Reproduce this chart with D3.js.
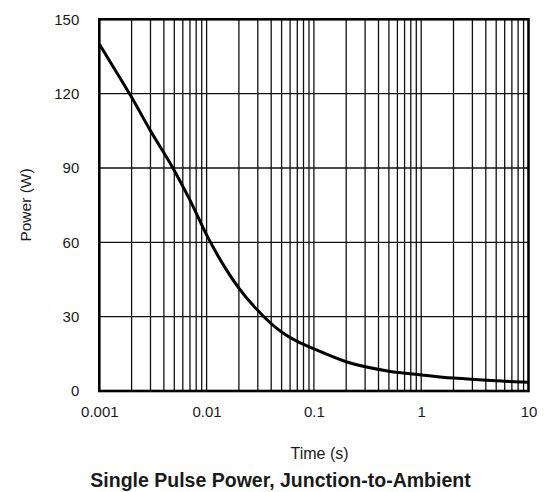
<!DOCTYPE html>
<html>
<head>
<meta charset="utf-8">
<script src="https://cdn.jsdelivr.net/npm/d3@7"></script>
<style>
  html, body { margin: 0; padding: 0; background: #fff; }
  svg { display: block; }
  text { font-family: "Liberation Sans", Arial, sans-serif; fill: #1a1a1a; }
</style>
</head>
<body>
<svg id="chart" width="548" height="492"></svg>
<script>
// Single pulse power curve, junction-to-ambient
const pulseTime = [0.001, 0.0015, 0.002, 0.003, 0.005, 0.007, 0.01, 0.015, 0.02, 0.03, 0.05, 0.07, 0.1, 0.2, 0.5, 1, 2, 5, 10];
const pulsePower = [140, 127.5, 118.5, 105, 89, 77, 63, 49.5, 41.5, 32.5, 23.8, 20, 17, 11.8, 8, 6.5, 5.2, 4.1, 3.5];

const xTickValues = [0.001, 0.01, 0.1, 1, 10];
const xTickLabels = ["0.001", "0.01", "0.1", "1", "10"];
const yTickValues = [0, 30, 60, 90, 120, 150];

const xTitle = "Time (s)";
const yTitle = "Power (W)";
const chartTitle = "Single Pulse Power, Junction-to-Ambient";

const svg = d3.select("#chart");
const margin = { left: 99.3, right: 528.5, top: 19.3, bottom: 391 };

const x = d3.scaleLog().domain([0.001, 10]).range([margin.left, margin.right]);
const y = d3.scaleLinear().domain([0, 150]).range([margin.bottom, margin.top]);

// minor + major vertical grid: 1..9 in every decade
const vGrid = [];
for (let e = -3; e < 1; e++) {
  for (let m = 1; m <= 9; m++) vGrid.push(m * Math.pow(10, e));
}
vGrid.push(10);

const grid = svg.append("g");
grid.selectAll("line.v").data(vGrid.filter(v => v > 0.001 && v < 10)).join("line")
  .attr("x1", d => x(d)).attr("x2", d => x(d))
  .attr("y1", y(0)).attr("y2", y(150))
  .attr("stroke", "#111").attr("stroke-width", 1.3);
grid.selectAll("line.h").data(yTickValues.filter(v => v > 0 && v < 150)).join("line")
  .attr("x1", x(0.001)).attr("x2", x(10))
  .attr("y1", d => y(d)).attr("y2", d => y(d))
  .attr("stroke", "#111").attr("stroke-width", 1.3);

// power curve
const line = d3.line()
  .x((d, i) => x(pulseTime[i]))
  .y(d => y(d))
  .curve(d3.curveMonotoneX);
svg.append("path")
  .attr("d", line(pulsePower))
  .attr("fill", "none")
  .attr("stroke", "#000")
  .attr("stroke-width", 3)
  .attr("stroke-linejoin", "round");

// plot frame
svg.append("rect")
  .attr("x", x(0.001)).attr("y", y(150))
  .attr("width", x(10) - x(0.001)).attr("height", y(0) - y(150))
  .attr("fill", "none").attr("stroke", "#000").attr("stroke-width", 2.6);

// axes
const xAxis = d3.axisBottom(x).tickValues(xTickValues)
  .tickFormat((d, i) => xTickLabels[i]).tickSize(0).tickPadding(15);
const gx = svg.append("g").attr("transform", `translate(0,${y(0)})`).call(xAxis);
gx.select(".domain").remove();
gx.selectAll("text").style("font-size", "15px").style("fill", "#1a1a1a")
  .style("font-family", "Liberation Sans, Arial, sans-serif");

const yAxis = d3.axisLeft(y).tickValues(yTickValues).tickFormat(d3.format("d"))
  .tickSize(0).tickPadding(20);
const gy = svg.append("g").attr("transform", `translate(${x(0.001)},0)`).call(yAxis);
gy.select(".domain").remove();
gy.selectAll("text").style("font-size", "15px").style("fill", "#1a1a1a")
  .style("font-family", "Liberation Sans, Arial, sans-serif");

// titles
svg.append("text")
  .attr("x", 319.5).attr("y", 459)
  .attr("text-anchor", "middle")
  .style("font-size", "16px")
  .text(xTitle);

svg.append("text")
  .attr("transform", "translate(31,205) rotate(-90)")
  .attr("text-anchor", "middle")
  .style("font-size", "15.5px")
  .text(yTitle);

svg.append("text")
  .attr("x", 280.5).attr("y", 487)
  .attr("text-anchor", "middle")
  .style("font-size", "19.5px")
  .style("font-weight", "bold")
  .text(chartTitle);
</script>
</body>
</html>
